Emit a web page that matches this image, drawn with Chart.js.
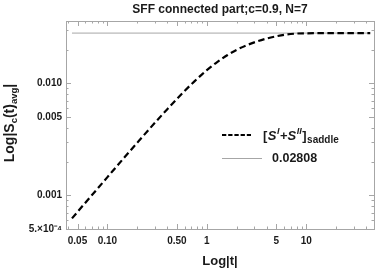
<!DOCTYPE html>
<html><head><meta charset="utf-8">
<script src="https://cdn.jsdelivr.net/npm/chart.js@4/dist/chart.umd.min.js"></script>
<style>html,body{margin:0;padding:0;background:#fff}canvas{display:block}</style>
</head><body>
<canvas id="c" width="382" height="273"></canvas>
<script>
// ---- data ----
const tValues      = [0.044, 0.06, 0.08, 0.1, 0.15, 0.2, 0.3, 0.4, 0.5, 0.6, 0.75, 0.9, 1.0, 1.26, 1.6, 2.0, 2.5, 3.0, 4.0, 5.0, 6.0, 8.0, 10, 15, 20, 44];
const saddleValues = [6.22e-4, 8.59e-4, 1.154e-3, 1.453e-3, 2.206e-3, 2.954e-3, 4.438e-3, 5.878e-3, 7.26e-3, 8.58e-3, 0.01041, 0.01209, 0.01311, 0.0154, 0.01779, 0.01993, 0.02182, 0.0232, 0.0251, 0.0263, 0.0271, 0.0278, 0.02795, 0.02805, 0.02808, 0.02808];
const plateauValue = 0.02808;
const xTickValues = [0.05, 0.1, 0.5, 1, 5, 10];
const xTickLabels = ['0.05', '0.10', '0.50', '1', '5', '10'];
const yTickValues = [0.0005, 0.001, 0.005, 0.01];
const yTickLabels = ['5.\u00d710\u207b\u2074', '0.001', '0.005', '0.010'];
const xMinorTicks = [0.04, 0.06, 0.07, 0.08, 0.09, 0.2, 0.3, 0.4, 0.6, 0.7, 0.8, 0.9, 2, 3, 4, 6, 7, 8, 9, 20, 30, 40];
const yMinorTicks = [0.0006, 0.0007, 0.0008, 0.0009, 0.002, 0.003, 0.004, 0.006, 0.007, 0.008, 0.009, 0.02, 0.03];
const titleText = 'SFF connected part;c=0.9, N=7';
const plateauLabel = '0.02808';

const FONT = '"Liberation Sans", Arial, sans-serif';
const FRAME = '#a6a6a6';
const TXT = '#1a1a1a';

function labelFor(values, labels, v) {
  for (let i = 0; i < values.length; i++) if (Math.abs(values[i] - v) / values[i] < 1e-6) return labels[i];
  return '';
}

const decorPlugin = {
  id: 'decor',
  afterDraw(chart) {
    const ctx = chart.ctx, a = chart.chartArea;
    const xs = chart.scales.x, ys = chart.scales.y;
    ctx.save();
    // frame
    ctx.strokeStyle = FRAME; ctx.lineWidth = 1;
    ctx.strokeRect(Math.round(a.left) + 0.5, Math.round(a.top) + 0.5, Math.round(a.right - a.left), Math.round(a.bottom - a.top));
    // ticks (inward, all four sides)
    const tick = (x1, y1, x2, y2) => { ctx.beginPath(); ctx.moveTo(x1, y1); ctx.lineTo(x2, y2); ctx.stroke(); };
    const xt = (v, len) => { const px = Math.round(xs.getPixelForValue(v)) + 0.5; tick(px, a.bottom, px, a.bottom - len); tick(px, a.top, px, a.top + len); };
    const yt = (v, len) => { const py = Math.round(ys.getPixelForValue(v)) + 0.5; tick(a.left, py, a.left + len, py); tick(a.right, py, a.right - len, py); };
    xTickValues.forEach(v => xt(v, 5)); xMinorTicks.forEach(v => xt(v, 2.5));
    yTickValues.forEach(v => yt(v, 5)); yMinorTicks.forEach(v => yt(v, 2.5));

    ctx.fillStyle = TXT;
    ctx.textBaseline = 'middle'; ctx.textAlign = 'center';
    // title
    ctx.font = 'bold 12px ' + FONT;
    ctx.fillText(titleText, (a.left + a.right) / 2, 10);
    // x axis title
    ctx.font = 'bold 13px ' + FONT;
    ctx.fillText('Log|t|', (a.left + a.right) / 2, 261);

    // rich text helper
    const drawRich = (segs, x, y) => {
      ctx.textAlign = 'left'; ctx.textBaseline = 'alphabetic';
      let cx = x;
      segs.forEach(s => { ctx.font = s.f; ctx.fillText(s.t, cx, y + (s.dy || 0)); cx += ctx.measureText(s.t).width + (s.gap || 0); });
      return cx - x;
    };
    const measureRich = segs => segs.reduce((w, s) => { ctx.font = s.f; return w + ctx.measureText(s.t).width + (s.gap || 0); }, 0);

    // y axis title (rotated)
    const B13 = 'bold 14px ' + FONT, B9 = 'bold 9.5px ' + FONT;
    const ySegs = [{t: 'Log|S', f: B13}, {t: 'c', f: B9, dy: 3}, {t: '(t)', f: B13}, {t: 'avg', f: B9, dy: 3}, {t: '|', f: B13}];
    const yw = measureRich(ySegs);
    ctx.save();
    ctx.translate(13.5, (a.top + a.bottom) / 2 - 2);
    ctx.rotate(-Math.PI / 2);
    drawRich(ySegs, -yw / 2, 0);
    ctx.restore();

    // legend
    ctx.strokeStyle = '#000'; ctx.lineWidth = 2.2; ctx.setLineDash([4.3, 1.9]);
    tick(222, 135, 251, 135);
    ctx.setLineDash([]);
    ctx.strokeStyle = FRAME; ctx.lineWidth = 1;
    tick(222, 158.5, 262, 158.5);
    const B12 = 'bold 13px ' + FONT, BI12 = 'italic bold 13px ' + FONT, BI8 = 'italic bold 9px ' + FONT, B8 = 'bold 10px ' + FONT;
    drawRich([
      {t: '[', f: B12, gap: 0.5}, {t: 'S', f: BI12, gap: 0.5}, {t: 'I', f: BI8, dy: -6, gap: 0.5}, {t: '+', f: B12},
      {t: 'S', f: BI12, gap: 0.5}, {t: 'II', f: BI8, dy: -6, gap: 0.5}, {t: ']', f: B12, gap: 0.5}, {t: 'saddle', f: B8, dy: 3}
    ], 263, 140);
    ctx.font = 'bold 12.5px ' + FONT; ctx.textAlign = 'left'; ctx.textBaseline = 'middle';
    ctx.fillText(plateauLabel, 272, 158.5);
    ctx.restore();
  }
};

new Chart(document.getElementById('c'), {
  type: 'line',
  data: {
    datasets: [
      {
        label: 'saddle',
        data: tValues.map((t, i) => ({x: t, y: saddleValues[i]})),
        borderColor: '#000', borderWidth: 2.2, borderDash: [6.5, 3.5],
        pointRadius: 0, cubicInterpolationMode: 'monotone', fill: false
      },
      {
        label: 'plateau',
        data: [{x: tValues[0], y: plateauValue}, {x: tValues[tValues.length - 1], y: plateauValue}],
        borderColor: FRAME, borderWidth: 1, pointRadius: 0, fill: false
      }
    ]
  },
  options: {
    responsive: false, devicePixelRatio: 1, animation: false,
    layout: {padding: {left: 0, right: 8, top: 21, bottom: 0}},
    plugins: {legend: {display: false}, title: {display: false}, tooltip: {enabled: false}},
    scales: {
      x: {
        type: 'logarithmic', min: 0.0383, max: 48,
        grid: {display: false, drawTicks: false}, border: {display: false},
        afterBuildTicks: ax => { ax.ticks = xTickValues.map(v => ({value: v})); },
        afterFit: ax => { ax.height = 44; },
        ticks: {autoSkip: false, maxRotation: 0, padding: 6, color: TXT, font: {family: FONT, size: 10, weight: 'bold'},
          callback: v => labelFor(xTickValues, xTickLabels, v)}
      },
      y: {
        type: 'logarithmic', min: 0.0005, max: 0.036,
        grid: {display: false, drawTicks: false}, border: {display: false},
        afterBuildTicks: ax => { ax.ticks = yTickValues.map(v => ({value: v})); },
        afterFit: ax => { ax.width = 66; },
        ticks: {autoSkip: false, padding: 4, color: TXT, font: {family: FONT, size: 10, weight: 'bold'},
          callback: v => labelFor(yTickValues, yTickLabels, v)}
      }
    }
  },
  plugins: [decorPlugin]
});
</script>
</body></html>
